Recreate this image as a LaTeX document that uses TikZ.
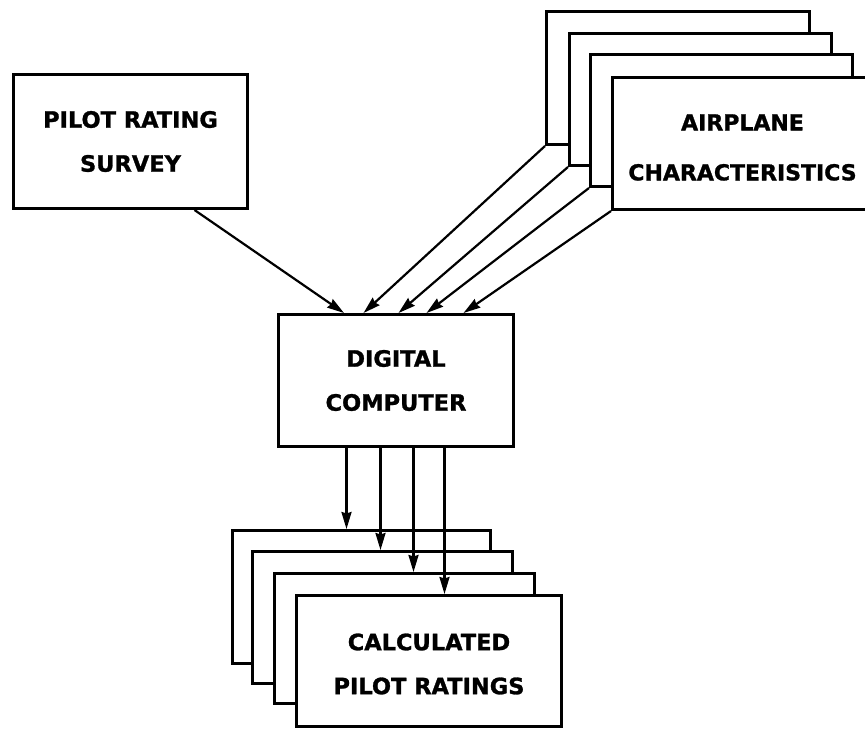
\documentclass[tikz,border=0pt]{standalone}
\usepackage{fontspec}
\setmainfont{DejaVu Sans}
\newfontfamily\labelfont[BoldFeatures={FakeBold=1.2}]{DejaVu Sans}
\usetikzlibrary{arrows.meta}
\begin{document}
\begin{tikzpicture}[x=1pt,y=-1pt,
  sheet/.style={draw=black, fill=white, line width=3pt, inner sep=0pt,
    anchor=north west, align=center,
    font=\labelfont\bfseries\fontsize{22.5}{44}\selectfont},
  caption/.style={inner sep=0pt, align=center,
    font=\labelfont\bfseries\fontsize{22.5}{44}\selectfont},
  flow/.style={line width=2.2pt, -{Stealth[length=17pt,width=10pt,inset=1.5pt]}}]
\useasboundingbox (0,0) rectangle (865,729);
\clip (0,0) rectangle (865,729);

% input: survey
\node[sheet, minimum width=234pt, minimum height=134pt] (survey) at (12,73)
  {PILOT RATING\\SURVEY};

% input: stack of airplane data sheets
\node[sheet, minimum width=263pt, minimum height=133pt] (a1) at (545,10) {};
\node[sheet, minimum width=262pt, minimum height=132pt] (a2) at (568,32) {};
\node[sheet, minimum width=262pt, minimum height=132pt] (a3) at (589,53) {};
\node[sheet, minimum width=262pt, minimum height=132pt] (a4) at (611,76) {};
\node[caption, font=\labelfont\bfseries\fontsize{22}{50}\selectfont]
  (a4text) at ([xshift=-1pt,yshift=-4pt]a4.center) {AIRPLANE\\CHARACTERISTICS};

% processing
\node[sheet, minimum width=235pt, minimum height=132pt] (comp) at (277,313)
  {DIGITAL\\COMPUTER};

% output: stack of result sheets
\node[sheet, minimum width=258pt, minimum height=133pt] (c1) at (231,529) {};
\node[sheet, minimum width=260pt, minimum height=132pt] (c2) at (251,550) {};
\node[sheet, minimum width=260pt, minimum height=130pt] (c3) at (273,572) {};
\node[sheet, minimum width=265pt, minimum height=131pt] (c4) at (295,594) {};
\node[caption] (c4text) at ([yshift=-3pt]c4.center) {CALCULATED\\PILOT RATINGS};

% entry points on top of the computer
\coordinate (s0) at ([xshift=64pt]survey.south);
\coordinate (t0) at ([xshift=-52pt]comp.north);
\coordinate (t1) at ([xshift=-32.5pt]comp.north);
\coordinate (t2) at ([xshift=2.5pt]comp.north);
\coordinate (t3) at ([xshift=30.5pt]comp.north);
\coordinate (t4) at ([xshift=67.5pt]comp.north);

\draw[flow] (s0) -- (t0);
\draw[flow] (a1.south west) -- (t1);
\draw[flow] (a2.south west) -- (t2);
\draw[flow] (a3.south west) -- (t3);
\draw[flow] (a4.south west) -- (t4);

% exit points under the computer
\coordinate (d1) at ([xshift=-49.5pt]comp.south);
\coordinate (d2) at ([xshift=-15.5pt]comp.south);
\coordinate (d3) at ([xshift=17.5pt]comp.south);
\coordinate (d4) at ([xshift=48.5pt]comp.south);

\draw[flow] (d1) -- (d1 |- c1.north);
\draw[flow] (d2) -- (d2 |- c2.north);
\draw[flow] (d3) -- (d3 |- c3.north);
\draw[flow] (d4) -- (d4 |- c4.north);
\end{tikzpicture}
\end{document}
